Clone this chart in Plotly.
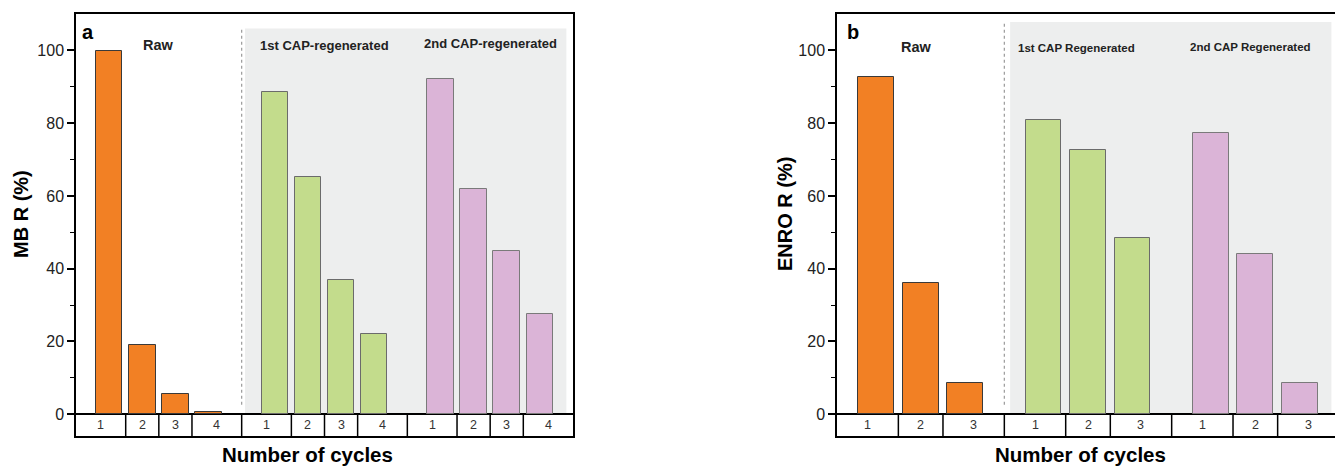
import plotly.graph_objects as go

# ---------------- data ----------------
groups_a = ["Raw", "1st CAP-regenerated", "2nd CAP-regenerated"]
cycles_a = ["1", "2", "3", "4"]
raw_a = [99.8, 19.1, 5.6, 0.5]
cap1_a = [88.5, 65.2, 37.0, 22.0]
cap2_a = [92.2, 61.9, 44.8, 27.5]

groups_b = ["Raw", "1st CAP Regenerated", "2nd CAP Regenerated"]
cycles_b = ["1", "2", "3"]
raw_b = [92.7, 36.1, 8.6]
cap1_b = [81.0, 72.5, 48.5]
cap2_b = [77.3, 44.1, 8.6]

y_ticks = [0, 20, 40, 60, 80, 100]
y_minor = [10, 30, 50, 70, 90]

# ---------------- style ----------------
FONT = "Liberation Sans, Arial, sans-serif"
fills = ["#F28024", "#C3DC8C", "#DBB4D7"]
outlines = ["#3a3a3a", "#6b6b6b", "#7a7a7a"]
Y_RANGE = [-6, 110]
TABLE_Y = -6
OFF = 8            # page body margin
W, H = 1343 - OFF, 467 - OFF


def px(xp):
    return (xp - OFF) / W


def py(yp):
    return 1 - (yp - OFF) / H


fig = go.Figure()


def panel(xa, ya, groups, cycles, series, gap, letter, label_shift, label_y, label_sizes, shade_pad):
    n = len(cycles)
    step = n + gap
    starts = [g * step for g in range(len(series))]
    pad = (gap + 1) / 2
    edges = [starts[0] - pad]
    centers_all = []
    for gi, (s, vals) in enumerate(zip(starts, series)):
        xs = [s + i for i in range(n)]
        centers_all.append(xs)
        fig.add_trace(go.Bar(
            x=xs, y=vals, xaxis=xa, yaxis=ya, width=0.8,
            marker=dict(color=fills[gi], line=dict(color=outlines[gi], width=1)),
            showlegend=False, hoverinfo="x+y",
        ))
        for i in range(n - 1):
            edges.append(s + i + 0.5)
        if gi < len(series) - 1:
            edges.append(s + n - 1 + (starts[gi + 1] - (s + n - 1)) / 2)
    edges.append(starts[-1] + n - 1 + pad)
    xref = "x" if xa == "x" else "x2"
    yref = "y" if ya == "y" else "y2"
    # table cell dividers
    for e in edges[1:-1]:
        fig.add_shape(type="line", xref=xref, yref=yref, x0=e, x1=e, y0=TABLE_Y, y1=0,
                      line=dict(color="black", width=1.5))
    # cell labels
    labels = cycles * len(series)
    for k, lab in enumerate(labels):
        fig.add_annotation(xref=xref, yref=yref, x=(edges[k] + edges[k + 1]) / 2, y=TABLE_Y / 2,
                           text=lab, showarrow=False, font=dict(family=FONT, size=12.5, color="#333"))
    # regeneration area
    boundary = edges[n]
    fig.add_shape(type="rect", xref=xref, yref=yref, x0=boundary + shade_pad[0], x1=edges[-1] - shade_pad[1],
                  y0=0, y1=shade_pad[2], fillcolor="#EDEEEE", line=dict(width=0), layer="below")
    fig.add_shape(type="line", xref=xref, yref=yref, x0=boundary, x1=boundary, y0=2.6, y1=shade_pad[2],
                  line=dict(color="#9a9a9a", width=1.2, dash="dot"), layer="below")
    # group labels
    for gi, g in enumerate(groups):
        fig.add_annotation(xref=xref, yref=yref, x=sum(centers_all[gi]) / n, y=label_y[gi],
                           xshift=label_shift[gi], text=f"<b>{g}</b>", showarrow=False,
                           xanchor="center", yanchor="middle",
                           font=dict(family=FONT, size=label_sizes[gi], color="#222"))
    fig.add_annotation(xref=f"{xref} domain", yref=yref, x=letter[1], y=105, xanchor="left",
                       yanchor="middle", text=f"<b>{letter[0]}</b>", showarrow=False,
                       font=dict(family=FONT, size=20, color="black"))
    return edges


ea = panel("x", "y", groups_a, cycles_a, [raw_a, cap1_a, cap2_a], 1.0, ("a", 0.008),
           [0, 0, 0], [101.4, 101.4, 101.9], [14.5, 13, 13], (0.1, 0.2, 106))
eb = panel("x2", "y2", groups_b, cycles_b, [raw_b, cap1_b, cap2_b], 0.75, ("b", 0.016),
           [-4, -12, -5], [100.9, 100.6, 100.9], [14.5, 11.5, 11.5], (0.13, 0.17, 107.8))

axis_common = dict(showline=True, mirror=True, linecolor="black", linewidth=1.5,
                   showgrid=False, zeroline=False, showticklabels=False, ticks="")
yaxis_common = dict(range=Y_RANGE, showline=True, mirror=True, linecolor="black", linewidth=1.5,
                    showgrid=False, zeroline=True, zerolinecolor="black", zerolinewidth=1.5,
                    tickmode="array", tickvals=y_ticks, ticks="outside", ticklen=7, tickwidth=1.5,
                    tickcolor="black",
                    minor=dict(tickmode="array", tickvals=y_minor, ticks="outside", ticklen=4,
                               tickwidth=1.2, tickcolor="black"),
                    tickfont=dict(family=FONT, size=16, color="#222"))

fig.update_layout(
    width=W, height=H,
    margin=dict(l=0, r=0, t=0, b=0),
    paper_bgcolor="white", plot_bgcolor="white",
    bargap=0,
    xaxis=dict(domain=[px(76), px(573)], range=[ea[0], ea[-1]], anchor="y", **axis_common),
    xaxis2=dict(domain=[px(837), px(1339)], range=[eb[0], eb[-1]], anchor="y2", **axis_common),
    yaxis=dict(domain=[py(436), py(14)], anchor="x", **yaxis_common),
    yaxis2=dict(domain=[py(436), py(14)], anchor="x2", **yaxis_common),
)

# axis titles
title_font = dict(family=FONT, size=20, color="black")
fig.add_annotation(xref="paper", yref="paper", x=px(21), y=py(214), text="<b>MB R (%)</b>",
                   textangle=-90, showarrow=False, xanchor="center", yanchor="middle", font=title_font)
fig.add_annotation(xref="paper", yref="paper", x=px(785), y=py(214), text="<b>ENRO R (%)</b>",
                   textangle=-90, showarrow=False, xanchor="center", yanchor="middle", font=title_font)
fig.add_annotation(xref="paper", yref="paper", x=px(307), y=py(466.5), text="<b>Number of cycles</b>",
                   showarrow=False, xanchor="center", yanchor="bottom", borderpad=0,
                   font=dict(family=FONT, size=20.5, color="black"))
fig.add_annotation(xref="paper", yref="paper", x=px(1080), y=py(466.5), text="<b>Number of cycles</b>",
                   showarrow=False, xanchor="center", yanchor="bottom", borderpad=0,
                   font=dict(family=FONT, size=20.5, color="black"))

fig.write_html("out.html")
